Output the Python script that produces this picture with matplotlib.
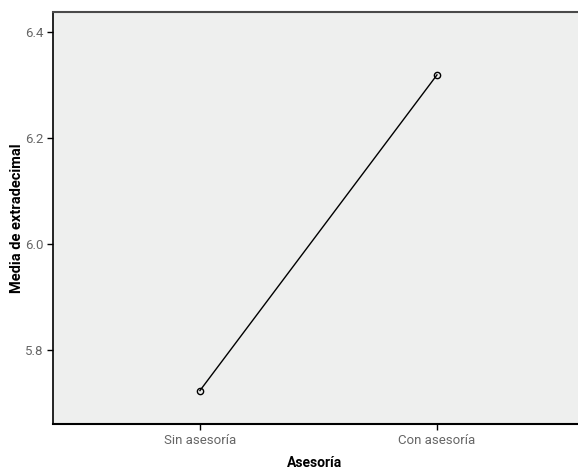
import matplotlib
matplotlib.use("Agg")
import matplotlib.pyplot as plt

# Estimated marginal means
categories = ["Sin asesoría", "Con asesoría"]
means = [5.724, 6.319]
yticks = [5.8, 6.0, 6.2, 6.4]

plt.rcParams['font.family'] = ['Roboto', 'DejaVu Sans']

fig = plt.figure(figsize=(5.78, 4.71), dpi=100)
ax = fig.add_axes([53/578, 1 - 424/471, 525/578, 412/471])
ax.set_facecolor('#eeefee')

x = list(range(len(categories)))
ax.plot(x, means, color='black', lw=1.0, marker='o', ms=4.5,
        mfc='none', mec='black', mew=1.0)

ax.set_xlim(-0.62, 1.595)
ax.set_ylim(5.661, 6.4376)
ax.set_xticks(x)
ax.set_xticklabels(categories)
ax.set_yticks(yticks)
ax.set_yticklabels([f"{v:.1f}" for v in yticks])
ax.tick_params(axis='both', colors='black', labelcolor='#666666',
               labelsize=9.5, length=4, width=1, pad=3)

ax.spines['right'].set_visible(False)
ax.spines['top'].set_color('#4a4a4a')
ax.spines['top'].set_linewidth(1.5)
ax.spines['left'].set_linewidth(1.2)
ax.spines['bottom'].set_linewidth(1.5)

fig.text(315/578, 1 - 463/471, "Asesoría", fontsize=10, fontweight='bold',
         ha='center', va='center')
fig.text(17/578, 1 - 218/471, "Media de extradecimal", fontsize=10.5,
         fontweight='bold', rotation=90, ha='center', va='center')

fig.savefig("out.png", dpi=100)
